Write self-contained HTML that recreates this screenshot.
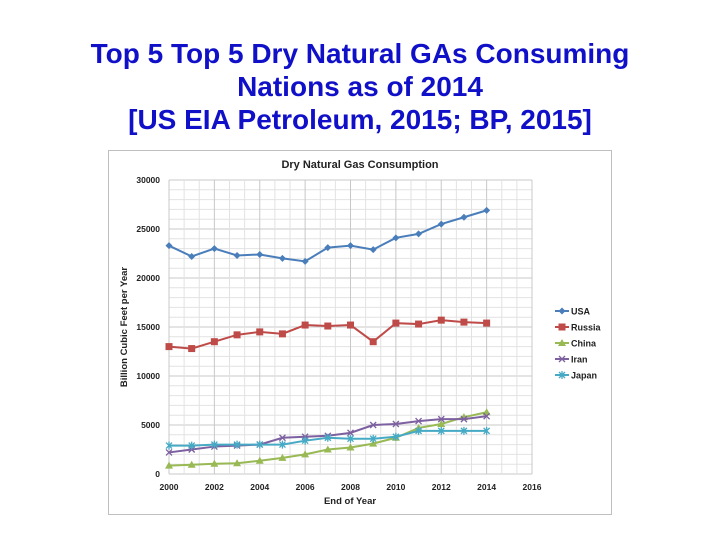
<!DOCTYPE html>
<html><head><meta charset="utf-8"><style>
body{margin:0;width:720px;height:540px;background:#fff;overflow:hidden;font-family:"Liberation Sans",Arial,sans-serif;}
#title{position:absolute;left:0;top:37px;width:720px;text-align:center;color:#1010c8;font-weight:bold;font-size:28px;line-height:33px;}
svg{position:absolute;left:0;top:0;}
</style></head><body>
<div id="title">Top 5 Top 5 Dry Natural GAs Consuming<br>Nations as of 2014<br>[US EIA Petroleum, 2015; BP, 2015]</div>
<svg id="chart" width="720" height="540"></svg>
<script>
const years=[2000,2001,2002,2003,2004,2005,2006,2007,2008,2009,2010,2011,2012,2013,2014];
const usa=[23300,22200,23000,22300,22400,22000,21700,23100,23300,22900,24100,24500,25500,26200,26900];
const russia=[13000,12800,13500,14200,14500,14300,15200,15100,15200,13500,15400,15300,15700,15500,15400];
const china=[850,950,1050,1100,1350,1650,2000,2500,2700,3100,3700,4700,5100,5800,6300];
const iran=[2200,2500,2800,2900,3000,3700,3800,3900,4200,5000,5100,5400,5600,5600,5900];
const japan=[2900,2900,3000,3000,3000,3000,3400,3700,3600,3600,3800,4400,4400,4400,4400];
const xTicks=[2000,2002,2004,2006,2008,2010,2012,2014,2016];
const yTicks=[0,5000,10000,15000,20000,25000,30000];
const seriesNames=["USA","Russia","China","Iran","Japan"];
const seriesData=[usa,russia,china,iran,japan];
const colors=["#4a7ebb","#be4b48","#98b954","#7d60a0","#46aac5"];
const markers=["diamond","square","triangle","x","star"];

const svg=document.getElementById('chart');
const NS='http://www.w3.org/2000/svg';
const X0=169,X1=532,Y0=474,Y1=180;
const xs=v=>X0+(v-2000)/16*(X1-X0);
const ys=v=>Y0-v/30000*(Y0-Y1);
function mk(tag,attrs,parent){const e=document.createElementNS(NS,tag);for(const k in attrs)e.setAttribute(k,attrs[k]);(parent||svg).appendChild(e);return e;}

const frame=mk('rect',{x:108.5,y:150.5,width:503,height:364,fill:'#fff',stroke:'#bfbfbf','stroke-width':1});


const grid=mk('g',{});


for(let v=0;v<=30000;v+=1000){mk('line',{x1:X0,x2:X1,y1:ys(v),y2:ys(v),stroke:v%5000?'#e2e2e2':'#c8c8c8','stroke-width':1},grid);}
for(let i=0;i<=24;i++){const v=2000+i*16/24;mk('line',{x1:xs(v),x2:xs(v),y1:Y1,y2:Y0,stroke:i%3?'#e2e2e2':'#c8c8c8','stroke-width':1},grid);}

const t=mk('text',{x:360,y:168,'text-anchor':'middle','font-size':11,'font-weight':'bold',fill:'#222'});t.textContent='Dry Natural Gas Consumption';


yTicks.forEach(v=>{const e=mk('text',{x:160,y:ys(v)+3,'text-anchor':'end','font-size':8.5,'font-weight':'bold',fill:'#222'});e.textContent=v;

});
xTicks.forEach(v=>{const e=mk('text',{x:xs(v),y:490,'text-anchor':'middle','font-size':8.5,'font-weight':'bold',fill:'#222'});e.textContent=v;

});
const xt=mk('text',{x:350,y:504,'text-anchor':'middle','font-size':9.5,'font-weight':'bold',fill:'#222'});xt.textContent='End of Year';


const yt=mk('text',{x:0,y:0,'text-anchor':'middle','font-size':9.5,'font-weight':'bold',fill:'#222',transform:'translate(127,327) rotate(-90)'});yt.textContent='Billion Cubic Feet per Year';



function marker(type,x,y,c,g){
 if(type==='diamond')mk('polygon',{points:`${x},${y-3.5} ${x+3.5},${y} ${x},${y+3.5} ${x-3.5},${y}`,fill:c},g);
 else if(type==='square')mk('rect',{x:x-3.5,y:y-3.5,width:7,height:7,fill:c},g);
 else if(type==='triangle')mk('polygon',{points:`${x},${y-4} ${x+4},${y+3} ${x-4},${y+3}`,fill:c},g);
 else if(type==='x'){mk('path',{d:`M${x-3},${y-3}L${x+3},${y+3}M${x-3},${y+3}L${x+3},${y-3}`,stroke:c,'stroke-width':1.3},g);}
 else {mk('path',{d:`M${x-3},${y-3}L${x+3},${y+3}M${x-3},${y+3}L${x+3},${y-3}M${x},${y-4}L${x},${y+4}`,stroke:c,'stroke-width':1.3},g);}
}
seriesData.forEach((d,si)=>{
 const g=mk('g',{});
 
 
 mk('polyline',{points:d.map((v,i)=>xs(years[i])+','+ys(v)).join(' '),fill:'none',stroke:colors[si],'stroke-width':2},g);
 d.forEach((v,i)=>marker(markers[si],xs(years[i]),ys(v),colors[si],g));
 const lg=mk('g',{});
 
 
 const ly=311+si*16;
 mk('line',{x1:555,x2:569,y1:ly,y2:ly,stroke:colors[si],'stroke-width':2},lg);
 marker(markers[si],562,ly,colors[si],lg);
 const lt=mk('text',{x:571,y:ly+3.5,'font-size':9,'font-weight':'bold',fill:'#222'},lg);lt.textContent=seriesNames[si];
});
</script>
</body></html>
